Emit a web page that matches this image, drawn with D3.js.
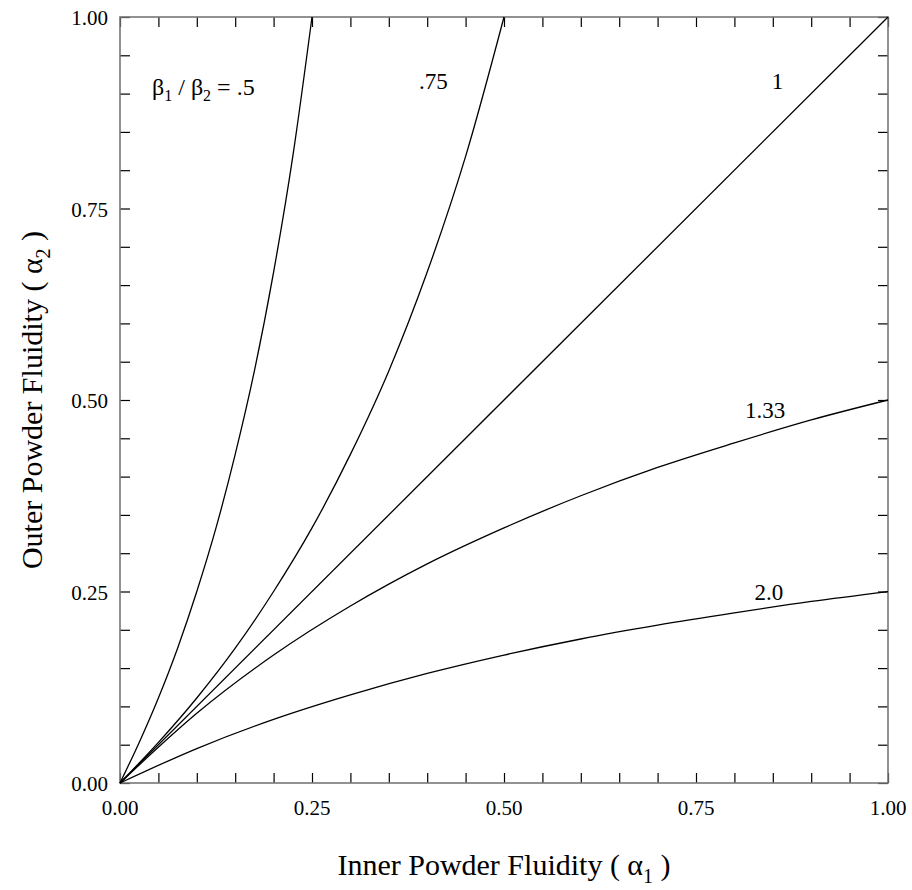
<!DOCTYPE html>
<html>
<head>
<meta charset="utf-8">
<script src="https://cdn.jsdelivr.net/npm/d3@7"></script>
<style>
  body { margin: 0; background: #fff; }
  text { font-family: "Liberation Serif", "Times New Roman", serif; fill: #000; }
</style>
</head>
<body>
<div id="chart"></div>
<script>
// values (alpha1 -> alpha2), one array per beta ratio
const ratios = [".5", ".75", "1", "1.33", "2.0"];

const xHalf = [0, 0.025, 0.05, 0.075, 0.1, 0.125, 0.15, 0.175, 0.2, 0.225, 0.25];
const yHalf = [0, 0.053, 0.111, 0.176, 0.25, 0.333, 0.429, 0.538, 0.667, 0.818, 1.0];

const xThreeQ = [0, 0.05, 0.1, 0.15, 0.2, 0.25, 0.3, 0.35, 0.4, 0.45, 0.5];
const yThreeQ = [0, 0.053, 0.111, 0.176, 0.25, 0.333, 0.429, 0.538, 0.667, 0.818, 1.0];

const xOne = [0, 1];
const yOne = [0, 1];

const xFull = [0, 0.1, 0.2, 0.3, 0.4, 0.5, 0.6, 0.7, 0.8, 0.9, 1.0];
const y133 = [0, 0.091, 0.167, 0.231, 0.286, 0.333, 0.375, 0.412, 0.444, 0.474, 0.5];
const yTwo = [0, 0.045, 0.083, 0.115, 0.143, 0.167, 0.188, 0.206, 0.222, 0.237, 0.25];

const tickLabels = ["0.00", "0.25", "0.50", "0.75", "1.00"];

const series = [
    {xs: xHalf, ys: yHalf},
    {xs: xThreeQ, ys: yThreeQ},
    {xs: xOne, ys: yOne},
    {xs: xFull, ys: y133},
    {xs: xFull, ys: yTwo}
];

const width = 912, height = 890;
const margin = {top: 17, right: 24, bottom: 107, left: 120};
const w = width - margin.left - margin.right;
const h = height - margin.top - margin.bottom;

const svg = d3.select("#chart").append("svg")
    .attr("width", width)
    .attr("height", height);

const g = svg.append("g")
    .attr("transform", "translate(" + margin.left + "," + margin.top + ")");

const x = d3.scaleLinear().domain([0, 1]).range([0, w]);
const y = d3.scaleLinear().domain([0, 1]).range([h, 0]);

// inward ticks every 0.05 on all four sides
const minor = d3.range(0, 21).map(i => i * 0.05);
const tickLen = 10;

function axisStyle(sel) {
    sel.select(".domain").remove();
    sel.selectAll(".tick line").attr("stroke", "#000").attr("stroke-width", 1.2);
}

g.append("g")
    .attr("transform", "translate(0," + h + ")")
    .call(d3.axisTop(x).tickValues(minor).tickSize(tickLen).tickFormat(""))
    .call(axisStyle);
g.append("g")
    .call(d3.axisBottom(x).tickValues(minor).tickSize(tickLen).tickFormat(""))
    .call(axisStyle);
g.append("g")
    .call(d3.axisRight(y).tickValues(minor).tickSize(tickLen).tickFormat(""))
    .call(axisStyle);
g.append("g")
    .attr("transform", "translate(" + w + ",0)")
    .call(d3.axisLeft(y).tickValues(minor).tickSize(tickLen).tickFormat(""))
    .call(axisStyle);

// tick labels
const majors = [0, 0.25, 0.5, 0.75, 1];
g.selectAll(".xlab").data(majors).enter().append("text")
    .attr("x", d => x(d))
    .attr("y", h + 32)
    .attr("text-anchor", "middle")
    .attr("font-size", 21)
    .text((d, i) => tickLabels[i]);

g.selectAll(".ylab").data(majors).enter().append("text")
    .attr("x", -12)
    .attr("y", d => y(d) + 8)
    .attr("text-anchor", "end")
    .attr("font-size", 21)
    .text((d, i) => tickLabels[i]);

// frame
g.append("rect")
    .attr("width", w)
    .attr("height", h)
    .attr("fill", "none")
    .attr("stroke", "#777")
    .attr("stroke-width", 1.6);

// curves
const line = d3.line()
    .x(d => x(d[0]))
    .y(d => y(d[1]))
    .curve(d3.curveMonotoneX);

g.selectAll(".curve").data(series).enter().append("path")
    .attr("class", "curve")
    .attr("fill", "none")
    .attr("stroke", "#000")
    .attr("stroke-width", 1.3)
    .attr("d", s => line(s.xs.map((v, i) => [v, s.ys[i]])));

// curve labels
const lab1 = g.append("text")
    .attr("x", 32)
    .attr("y", 78)
    .attr("font-size", 24);
lab1.append("tspan").text("β");
lab1.append("tspan").attr("font-size", 16).attr("dy", 6).text("1");
lab1.append("tspan").attr("dy", -6).text(" / β");
lab1.append("tspan").attr("font-size", 16).attr("dy", 6).text("2");
lab1.append("tspan").attr("dy", -6).text(" = " + ratios[0]);

const otherLabels = [
    {t: ratios[1], px: 0.408, py: 0.906},
    {t: ratios[2], px: 0.856, py: 0.906},
    {t: ratios[3], px: 0.84, py: 0.476},
    {t: ratios[4], px: 0.845, py: 0.239}
];
g.selectAll(".clab").data(otherLabels).enter().append("text")
    .attr("x", d => x(d.px))
    .attr("y", d => y(d.py))
    .attr("text-anchor", "middle")
    .attr("font-size", 23)
    .text(d => d.t);

// axis titles
const xt = svg.append("text")
    .attr("x", margin.left + w / 2)
    .attr("y", 875)
    .attr("text-anchor", "middle")
    .attr("font-size", 30);
xt.append("tspan").text("Inner Powder Fluidity ( α");
xt.append("tspan").attr("font-size", 20).attr("dy", 8).text("1");
xt.append("tspan").attr("dy", -8).text(" )");

const yt = svg.append("text")
    .attr("transform", "translate(42," + (margin.top + h / 2) + ") rotate(-90)")
    .attr("text-anchor", "middle")
    .attr("font-size", 30);
yt.append("tspan").text("Outer Powder Fluidity ( α");
yt.append("tspan").attr("font-size", 20).attr("dy", 8).text("2");
yt.append("tspan").attr("dy", -8).text(" )");
</script>
</body>
</html>
